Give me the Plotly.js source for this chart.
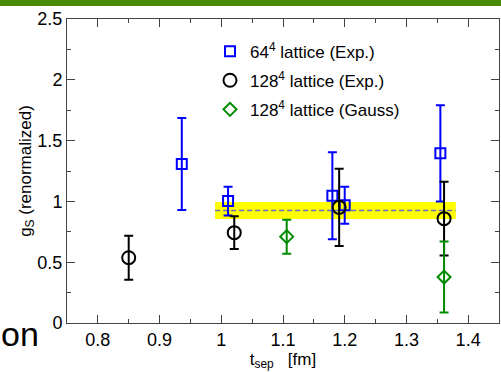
<!DOCTYPE html>
<html>
<head>
<meta charset="utf-8">
<script src="https://cdn.plot.ly/plotly-3.0.1.min.js"></script>
<style>html,body{margin:0;padding:0;background:#fff;}#chart{width:501px;height:372px;}</style>
</head>
<body>
<div id="chart"></div>
<script>
// 64^4 lattice (Exp.)
const x64 = [0.936, 1.011, 1.18, 1.20, 1.355];
const y64 = [1.307, 1.003, 1.047, 0.968, 1.395];
const e64 = [0.378, 0.118, 0.358, 0.152, 0.395];
// 128^4 lattice (Exp.)
const x128 = [0.85, 1.021, 1.191, 1.361];
const y128 = [0.537, 0.743, 0.951, 0.858];
const e128 = [0.181, 0.134, 0.318, 0.303];
// 128^4 lattice (Gauss)
const x128g = [1.106, 1.361];
const y128g = [0.71, 0.378];
const e128g = [0.14, 0.292];
// fit band
const bandX = [0.99, 1.38];
const bandCenter = 0.925;
const bandHalf = 0.07;

const labels = ['64<sup>4</sup> lattice (Exp.)', '128<sup>4</sup> lattice (Exp.)', '128<sup>4</sup> lattice (Gauss)'];
const xTicks = [0.8, 0.9, 1, 1.1, 1.2, 1.3, 1.4];
const yTicks = [0, 0.5, 1, 1.5, 2, 2.5];

const font = 'Liberation Sans, Arial, Helvetica, sans-serif';

const traces = [
  {
    x: [bandX[0], bandX[1], bandX[1], bandX[0], bandX[0]],
    y: [bandCenter - bandHalf, bandCenter - bandHalf, bandCenter + bandHalf, bandCenter + bandHalf, bandCenter - bandHalf],
    mode: 'lines', fill: 'toself', fillcolor: '#ffff00', line: {width: 0, color: '#ffff00'},
    showlegend: false, hoverinfo: 'skip'
  },
  {
    x: bandX, y: [bandCenter, bandCenter], mode: 'lines',
    line: {color: '#6a6acd', width: 1.5, dash: '5px,3px'}, showlegend: false, hoverinfo: 'skip'
  },
  {
    x: x64, y: y64, mode: 'markers', name: labels[0], legendgroup: 'a',
    marker: {symbol: 'square-open', size: 10, color: '#0000ff', line: {width: 2, color: '#0000ff'}},
    error_y: {type: 'data', array: e64, visible: true, color: '#0000ff', thickness: 2, width: 4.5}
  },
  {
    x: x128, y: y128, mode: 'markers', name: labels[1], legendgroup: 'b',
    marker: {symbol: 'circle-open', size: 13, color: '#000000', line: {width: 2, color: '#000000'}},
    error_y: {type: 'data', array: e128, visible: true, color: '#000000', thickness: 2, width: 4.5}
  },
  {
    x: x128g, y: y128g, mode: 'markers', name: labels[2], legendgroup: 'c',
    marker: {symbol: 'diamond-open', size: 10, color: '#008a00', line: {width: 2, color: '#008a00'}},
    error_y: {type: 'data', array: e128g, visible: true, color: '#008a00', thickness: 2, width: 4.5}
  }
];

const axisCommon = {
  showline: true, linecolor: '#444', linewidth: 1, mirror: 'ticks',
  ticks: 'inside', ticklen: 8, tickwidth: 1, tickcolor: '#444',
  showgrid: false, zeroline: false,
  tickfont: {family: font, size: 18, color: '#000'},
};

const layout = {
  width: 501, height: 372,
  margin: {l: 67, r: 2, t: 19, b: 49},
  paper_bgcolor: '#ffffff', plot_bgcolor: '#ffffff',
  font: {family: font, color: '#000'},
  showlegend: true,
  legend: {
    x: 0.331, y: 0.952, xanchor: 'left', yanchor: 'top',
    bgcolor: 'rgba(0,0,0,0)', borderwidth: 0,
    font: {family: font, size: 17, color: '#000'},
    traceorder: 'grouped', tracegroupgap: 4
  },
  xaxis: Object.assign({}, axisCommon, {
    range: [0.75, 1.45], tickmode: 'array', tickvals: xTicks, ticktext: xTicks.map(String),
    minor: {dtick: 0.05, ticks: 'inside', ticklen: 4, tickcolor: '#444'},
    title: {text: 't<sub>sep</sub>   [fm]', font: {family: font, size: 17, color: '#000'}, standoff: 0}
  }),
  yaxis: Object.assign({}, axisCommon, {
    range: [0, 2.5], tickmode: 'array', tickvals: yTicks, ticktext: yTicks.map(String),
    minor: {dtick: 0.25, ticks: 'inside', ticklen: 4, tickcolor: '#444'},
    title: {text: 'g<sub>S</sub> (renormalized)', font: {family: font, size: 17, color: '#000'}, standoff: 0}
  }),
  shapes: [
    {type: 'rect', xref: 'paper', yref: 'paper', x0: -0.2, x1: 1.05, y0: 1.043, y1: 1.08,
     fillcolor: '#4a8a00', line: {width: 0}, layer: 'above'}
  ],
  annotations: [
    {text: 'on', xref: 'paper', yref: 'paper', x: -0.158, y: -0.035, xanchor: 'left', yanchor: 'middle',
     showarrow: false, font: {family: font, size: 34, color: '#000'}}
  ]
};

Plotly.newPlot('chart', traces, layout, {displayModeBar: false, staticPlot: true});
</script>
</body>
</html>
